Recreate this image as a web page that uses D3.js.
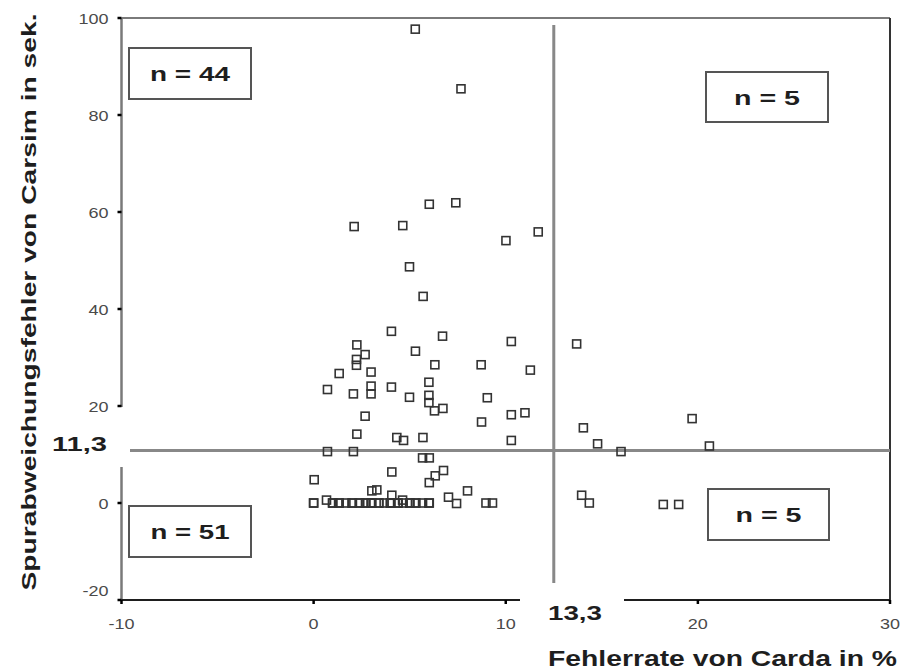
<!DOCTYPE html>
<html><head><meta charset="utf-8">
<script src="https://cdn.jsdelivr.net/npm/d3@7/dist/d3.min.js"></script>
<style>body{margin:0;background:#fff}svg{display:block}text{font-family:"Liberation Sans",Arial,sans-serif}</style>
</head><body><svg id="c" width="903" height="670"></svg>
<script>
// ---- data ----
const xDomain = [-10, 30];
const yDomain = [-20, 100];
const xTicks = [-10, 0, 10, 20, 30];
const yTicks = [-20, 0, 20, 40, 60, 80, 100];
const xTickLabels = ["-10", "0", "10", "20", "30"];
const yTickLabels = ["-20", "0", "20", "40", "60", "80", "100"];
const thresholdX = 12.5, thresholdXLabel = "13,3";
const thresholdY = 10.8, thresholdYLabel = "11,3";
const quadrantLabels = ["n = 44", "n = 5", "n = 51", "n = 5"];
const xTitle = "Fehlerrate von Carda in %";
const yTitle = "Spurabweichungsfehler von Carsim in sek.";

// Fehlerrate (x) and Spurabweichungsfehler (y)
const errRate = [
  5.29,7.67,6.02,7.40,2.11,4.64,10.01,11.69,
  4.99,5.70,4.05,6.71,10.29,
  2.25,2.68,2.23,2.23,
  5.30,6.31,8.72,11.28,
  1.33,2.99,
  0.72,2.07,2.99,2.99,
  4.05,4.99,6.0,6.0,6.0,6.29,6.73,
  9.04,8.74,10.29,11.0,
  2.68,2.25,4.33,4.68,5.69,10.29,
  13.69,14.04,14.78,19.7,20.6,
  16.0,13.95,14.35,18.2,19.0,
  0.72,2.07,5.67,6.02,0.03,4.07,6.02,6.33,6.76,3.03,3.29,4.07,8.01,7.02,7.44,8.97,9.31,0.67,4.63,
  0.0,0.98,1.33,1.68,2.02,2.37,2.72,3.03,3.38,3.67,4.02,4.37,4.66,5.01,5.32,5.67,6.02,
  0.0,1.0,1.3,2.0,2.4,3.0,3.0,3.4,4.0,4.0,4.4,5.0,5.3,6.0,2.7
];
const laneDev = [
  97.7,85.4,61.6,61.9,57.0,57.2,54.1,55.9,
  48.7,42.6,35.4,34.4,33.3,
  32.6,30.6,29.6,28.4,
  31.3,28.5,28.5,27.4,
  26.7,27.0,
  23.4,22.5,24.1,22.5,
  23.9,21.8,24.9,22.2,20.7,19.0,19.5,
  21.7,16.7,18.2,18.6,
  17.9,14.2,13.5,12.9,13.5,12.9,
  32.8,15.5,12.2,17.4,11.75,
  10.6,1.6,0,-0.3,-0.3,
  10.6,10.6,9.3,9.3,4.8,6.4,4.2,5.6,6.7,2.5,2.7,1.6,2.5,1.2,-0.1,0,0,0.6,0.6,
  0,0,0,0,0,0,0,0,0,0,0,0,0,0,0,0,0,
  0,0,0,0,0,0,0,0,0,0,0,0,0,0,0
];

// ---- layout ----
const svg = d3.select("#c");
const x = d3.scaleLinear().domain(xDomain).range([121.5, 890]);
const y = d3.scaleLinear().domain(yDomain).range([600, 18]);
const axisGray = "#7a7a7a", dark = "#1e1e1e";

function stretch(sel, f) {
  sel.each(function () {
    const w = this.getComputedTextLength();
    d3.select(this).attr("textLength", w * f).attr("lengthAdjust", "spacingAndGlyphs");
  });
}

// frame top and right
svg.append("line").attr("x1", x(-10)).attr("x2", x(30)).attr("y1", y(100)).attr("y2", y(100))
  .attr("stroke", axisGray).attr("stroke-width", 2);
svg.append("line").attr("x1", x(30)).attr("x2", x(30)).attr("y1", y(100)).attr("y2", y(-20))
  .attr("stroke", "#333").attr("stroke-width", 2);

// left axis (with gap at 11,3 label)
svg.append("line").attr("x1", x(-10)).attr("x2", x(-10)).attr("y1", y(100)).attr("y2", 407)
  .attr("stroke", axisGray).attr("stroke-width", 2.5);
svg.append("line").attr("x1", x(-10)).attr("x2", x(-10)).attr("y1", 467).attr("y2", y(-20))
  .attr("stroke", axisGray).attr("stroke-width", 2.5);
// bottom axis (with gap at 13,3 label)
svg.append("line").attr("x1", x(-10)).attr("x2", 520).attr("y1", y(-20)).attr("y2", y(-20))
  .attr("stroke", dark).attr("stroke-width", 2);
svg.append("line").attr("x1", 624).attr("x2", x(30)).attr("y1", y(-20)).attr("y2", y(-20))
  .attr("stroke", dark).attr("stroke-width", 2);

// ticks
svg.append("g").selectAll("line").data(yTicks).join("line")
  .attr("x1", x(-10) - 4).attr("x2", x(-10)).attr("y1", d => y(d)).attr("y2", d => y(d))
  .attr("stroke", "#000").attr("stroke-width", 2.5);
svg.append("g").selectAll("line").data(xTicks).join("line")
  .attr("x1", d => x(d)).attr("x2", d => x(d)).attr("y1", y(-20)).attr("y2", y(-20) + 4)
  .attr("stroke", "#000").attr("stroke-width", 2.5);

const yl = svg.append("g").selectAll("text").data(yTicks).join("text")
  .attr("x", x(-10) - 13).attr("y", (d, i) => y(d) + (d === -20 ? -9 : 1)).attr("dy", "0.35em")
  .attr("text-anchor", "end").attr("font-size", 15).attr("fill", "#4a4a4a")
  .text((d, i) => yTickLabels[i]);
stretch(yl, 1.2);
const xl = svg.append("g").selectAll("text").data(xTicks).join("text")
  .attr("x", d => x(d)).attr("y", 629)
  .attr("text-anchor", "middle").attr("font-size", 15).attr("fill", "#4a4a4a")
  .text((d, i) => xTickLabels[i]);
stretch(xl, 1.2);

// threshold lines
svg.append("line").attr("x1", 130).attr("x2", x(30)).attr("y1", y(thresholdY)).attr("y2", y(thresholdY))
  .attr("stroke", "#888").attr("stroke-width", 3);
svg.append("line").attr("x1", x(thresholdX)).attr("x2", x(thresholdX)).attr("y1", 25).attr("y2", 583)
  .attr("stroke", "#888").attr("stroke-width", 3);

svg.append("text").attr("x", 52).attr("y", 451).attr("font-size", 21).attr("font-weight", "bold")
  .attr("fill", dark).attr("textLength", 55).attr("lengthAdjust", "spacingAndGlyphs").text(thresholdYLabel);
svg.append("text").attr("x", 548).attr("y", 620).attr("font-size", 21).attr("font-weight", "bold")
  .attr("fill", dark).attr("textLength", 54).attr("lengthAdjust", "spacingAndGlyphs").text(thresholdXLabel);

// quadrant boxes
const boxes = [
  {x0: 129, y0: 48, w: 122, h: 51, tw: 80},
  {x0: 706, y0: 72, w: 122, h: 50, tw: 66},
  {x0: 129, y0: 506, w: 122, h: 51, tw: 79},
  {x0: 708, y0: 489, w: 121, h: 51, tw: 66}
];
boxes.forEach((b, i) => {
  svg.append("rect").attr("x", b.x0).attr("y", b.y0).attr("width", b.w).attr("height", b.h)
    .attr("fill", "#fff").attr("stroke", "#555").attr("stroke-width", 2);
  svg.append("text").attr("x", b.x0 + b.w / 2).attr("y", b.y0 + b.h / 2 + 7.5)
    .attr("text-anchor", "middle").attr("font-size", 21).attr("font-weight", "bold").attr("fill", dark)
    .attr("textLength", b.tw).attr("lengthAdjust", "spacingAndGlyphs").text(quadrantLabels[i]);
});

// points
const pts = errRate.map((v, i) => [v, laneDev[i]]);
const s = 8;
svg.append("g").selectAll("rect").data(pts).join("rect")
  .attr("x", d => x(d[0]) - s / 2).attr("y", d => y(d[1]) - s / 2)
  .attr("width", s).attr("height", s)
  .attr("fill", "none").attr("stroke", "#333").attr("stroke-width", 1.6);

// axis titles
svg.append("text").attr("x", 548).attr("y", 666).attr("font-size", 22).attr("font-weight", "bold")
  .attr("fill", dark).attr("textLength", 349).attr("lengthAdjust", "spacingAndGlyphs").text(xTitle);
svg.append("text").attr("transform", "translate(36,302) rotate(-90)").attr("text-anchor", "middle")
  .attr("font-size", 21).attr("font-weight", "bold").attr("fill", dark)
  .attr("textLength", 577).attr("lengthAdjust", "spacingAndGlyphs").text(yTitle);
</script></body></html>
